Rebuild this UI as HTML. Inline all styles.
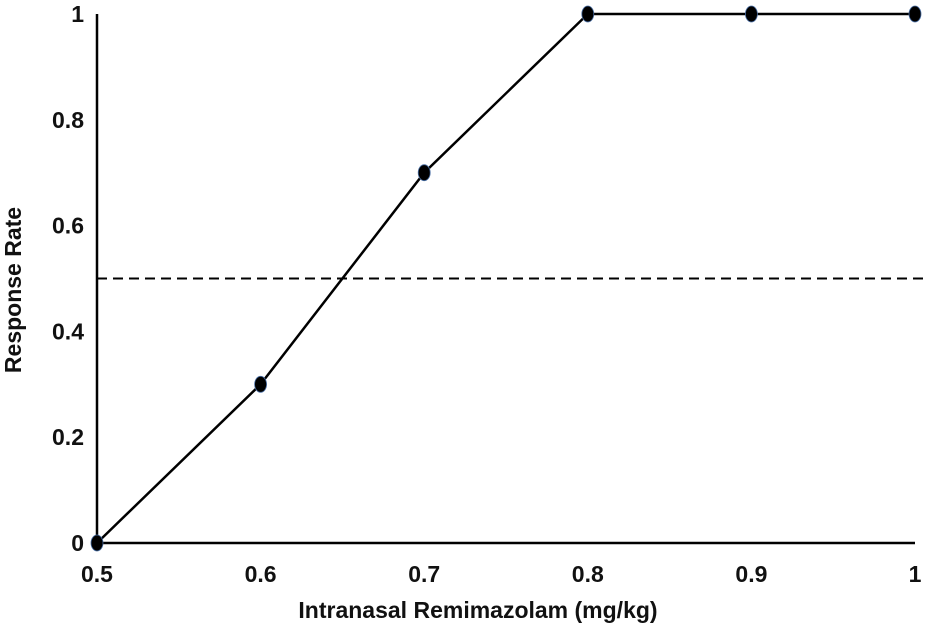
<!DOCTYPE html>
<html><head><meta charset="utf-8"><style>
html,body{margin:0;padding:0;background:#fff;}
svg text{font-family:"Liberation Sans",sans-serif;fill:#111;font-weight:bold;}
</style></head><body>
<svg id="chart" width="926" height="631" viewBox="0 0 926 631" xmlns="http://www.w3.org/2000/svg"></svg>
<script>
const doses=[0.5,0.6,0.7,0.8,0.9,1.0];
const rates=[0,0.3,0.7,1,1,1];
const xTicks=[0.5,0.6,0.7,0.8,0.9,1];
const xTickLabels=["0.5","0.6","0.7","0.8","0.9","1"];
const yTicks=[0,0.2,0.4,0.6,0.8,1];
const yTickLabels=["0","0.2","0.4","0.6","0.8","1"];
const refLevel=[0.5];
const svg=document.getElementById('chart');
const NS='http://www.w3.org/2000/svg';
const X0=97,X1=915,Y0=543,Y1=14;
const sx=v=>X0+(v-0.5)/(1-0.5)*(X1-X0);
const sy=v=>Y0-v*(Y0-Y1);
function mk(t,a){const e=document.createElementNS(NS,t);for(const k in a)e.setAttribute(k,a[k]);svg.appendChild(e);return e;}
let e;
e=mk('line',{x1:X0,y1:Y0,x2:X1,y2:Y0,stroke:'#000','stroke-width':2.5});


e=mk('line',{x1:X0,y1:Y0,x2:X0,y2:Y1,stroke:'#000','stroke-width':2.5});


xTicks.forEach((v,i)=>{
 e=mk('text',{x:sx(v),y:582,'text-anchor':'middle','font-size':23});e.textContent=xTickLabels[i];
 
 
});
yTicks.forEach((v,i)=>{
 e=mk('text',{x:84,y:sy(v)+8,'text-anchor':'end','font-size':23});e.textContent=yTickLabels[i];
 
 
});
e=mk('line',{x1:X0,y1:sy(refLevel[0]),x2:X1+8,y2:sy(refLevel[0]),stroke:'#000','stroke-width':2,'stroke-dasharray':'10,6'});


e=mk('polyline',{points:doses.map((d,i)=>sx(d)+','+sy(rates[i])).join(' '),fill:'none',stroke:'#000','stroke-width':2.5});


doses.forEach((d,i)=>{
 e=mk('ellipse',{cx:sx(d),cy:sy(rates[i]),rx:6,ry:8,fill:'#000',stroke:'#4a6fa5','stroke-width':0.8});
 
 
});
e=mk('text',{x:478,y:618,'text-anchor':'middle','font-size':23});e.textContent='Intranasal Remimazolam (mg/kg)';


e=mk('text',{x:21,y:290,'text-anchor':'middle','font-size':23,transform:'rotate(-90 21 290)'});e.textContent='Response Rate';


</script>
</body></html>
